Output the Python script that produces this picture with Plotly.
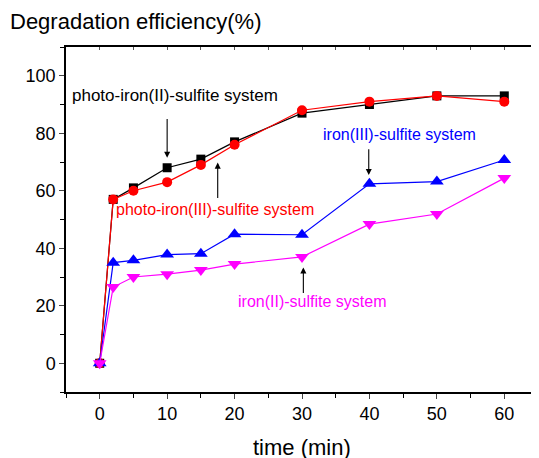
import plotly.graph_objects as go

time_min = [0, 2, 5, 10, 15, 20, 30, 40, 50, 60]
photo_iron2 = [0, 57, 61, 68, 71, 77, 87, 90, 93, 93]
photo_iron3 = [0, 57, 60, 63, 69, 76, 88, 91, 93, 91]
iron3 = [0, 35, 35.8, 37.8, 38.1, 44.9, 44.7, 62.4, 63.2, 70.7]
iron2 = [0, 26.5, 30, 31, 32.4, 34.5, 37, 48.4, 51.9, 64.4]

series_names = ["photo-iron(II)-sulfite system", "photo-iron(III)-sulfite system",
                "iron(III)-sulfite system", "iron(II)-sulfite system"]
series_colors = ["#000000", "#ff0000", "#0000ff", "#ff00ff"]
series_symbols = ["square", "circle", "triangle-up", "triangle-down"]
series_values = [photo_iron2, photo_iron3, iron3, iron2]
marker_sizes = [9, 10, 12, 12]

x_ticks = [0, 10, 20, 30, 40, 50, 60]
y_ticks = [0, 20, 40, 60, 80, 100]

FONT = "Liberation Sans, Arial, sans-serif"

fig = go.Figure()
for name, vals, col, sym, ms in zip(series_names, series_values, series_colors, series_symbols, marker_sizes):
    fig.add_trace(go.Scatter(x=time_min, y=vals, mode="lines+markers", name=name,
                             line=dict(color=col, width=1.2),
                             marker=dict(symbol=sym, size=ms, color=col, line=dict(width=0)),
                             showlegend=False, cliponaxis=False))

# label texts with arrows: (text, color, font size, text_x, text_y, arrow_x, tail_y, head_y)
labels = [
    ("photo-iron(II)-sulfite system", "#000000", 17, 11.2, 93.2, 10, 85.5, 71.5),
    ("photo-iron(III)-sulfite system", "#ff0000", 16, 17.1, 53.4, 17.5, 57.0, 69.8),
    ("iron(III)-sulfite system", "#0000ff", 16, 44.5, 79.4, 39.9, 75.0, 65.5),
    ("iron(II)-sulfite system", "#ff00ff", 16, 31.5, 21.5, 30.2, 23.9, 33.3),
]
for text, col, fs, tx, ty, axx, tail, head in labels:
    fig.add_annotation(x=tx, y=ty, text=text, showarrow=False,
                       font=dict(family=FONT, size=fs, color=col), xref="x", yref="y")
    fig.add_annotation(x=axx, y=head, ax=axx, ay=tail, xref="x", yref="y",
                       axref="x", ayref="y", text="", showarrow=True,
                       arrowhead=2, arrowsize=1.1, arrowwidth=1.1, arrowcolor="#000000")

fig.add_annotation(text="Degradation efficiency(%)", xref="paper", yref="paper",
                   x=-58 / 472, y=1 + 25 / 345, xanchor="left", yanchor="middle",
                   showarrow=False, font=dict(family=FONT, size=22, color="#000000"))
fig.add_annotation(text="time (min)", xref="paper", yref="paper",
                   x=0.5, y=-55 / 345, xanchor="center", yanchor="middle",
                   showarrow=False, font=dict(family=FONT, size=22, color="#000000"))

# page has an 8px body margin: figure is offset by (8, 8) in the window
fig.update_layout(
    width=531, height=450,
    margin=dict(l=58, r=1, t=39, b=66),
    paper_bgcolor="white", plot_bgcolor="white",
    font=dict(family=FONT, color="#000000"),
    xaxis=dict(range=[-5, 65], tickvals=x_ticks, ticks="outside", ticklen=5, tickwidth=1.2,
               showline=True, linecolor="#000000", linewidth=1.5, mirror=True, automargin=False,
               showgrid=False, zeroline=False, tickfont=dict(size=18),
               minor=dict(dtick=5, tick0=0, ticks="outside", ticklen=4, tickwidth=1.2, tickcolor="#000000")),
    yaxis=dict(range=[-10, 110], tickvals=y_ticks, ticks="outside", ticklen=5, tickwidth=1.2,
               showline=True, linecolor="#000000", linewidth=1.5, mirror=True, automargin=False,
               showgrid=False, zeroline=False, tickfont=dict(size=18),
               minor=dict(dtick=10, tick0=0, ticks="outside", ticklen=4, tickwidth=1.2, tickcolor="#000000")),
    xaxis2=dict(range=[-5, 65], overlaying="x", side="top", dtick=5, tick0=0, ticks="inside",
                ticklen=3, showticklabels=False, showgrid=False, zeroline=False, tickcolor="#555555",
                automargin=False),
    yaxis2=dict(range=[-10, 110], overlaying="y", side="right", dtick=10, tick0=0, ticks="inside",
                ticklen=3, showticklabels=False, showgrid=False, zeroline=False, tickcolor="#555555",
                automargin=False),
)
fig.add_trace(go.Scatter(x=[None], y=[None], xaxis="x2", yaxis="y2", showlegend=False, hoverinfo="skip"))

fig.write_html("out.html")
